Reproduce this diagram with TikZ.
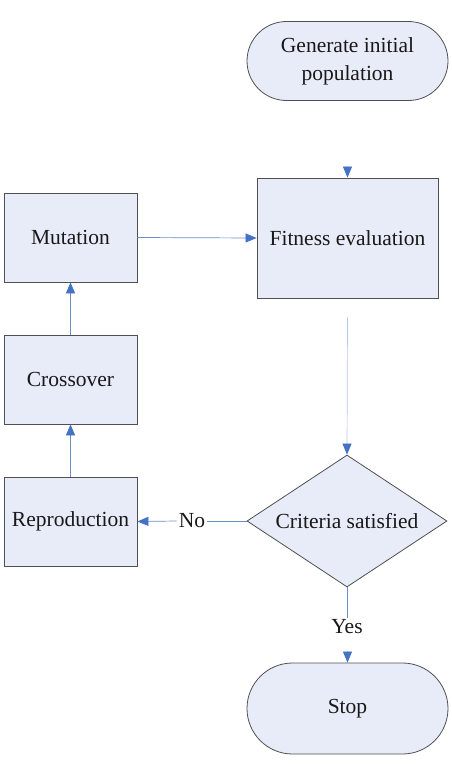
\documentclass[tikz,border=0pt]{standalone}
\usepackage{fontspec}
\setmainfont{Liberation Serif}
\usetikzlibrary{shapes.geometric,shapes.misc,arrows.meta}
\definecolor{boxfill}{HTML}{E8ECF8}
\definecolor{boxline}{HTML}{505050}
\definecolor{arrline}{HTML}{6A8EC8}
\definecolor{faintline}{HTML}{B4C8EC}
\definecolor{tipblue}{HTML}{4472C4}
\tikzset{
  base/.style={draw=boxline, fill=boxfill, line width=0.8pt, inner sep=0pt, font=\fontsize{21.5}{28}\selectfont, text=black!90},
  procbox/.style={base, rectangle},
  termbox/.style={base, rounded rectangle, align=center},
  decbox/.style={base, diamond},
  conn/.style={draw=arrline, line width=0.7pt},
  arr/.style={conn, -{Triangle[length=11pt,width=9pt,fill=tipblue,color=tipblue]}},
  lbl/.style={fill=white, inner sep=2pt, font=\fontsize{21.5}{25}\selectfont, text=black!90}
}
\begin{document}
\begin{tikzpicture}[x=1pt,y=-1pt]
\useasboundingbox (0,0) rectangle (451,780);
\node[termbox, minimum width=201pt, minimum height=79pt] (gen) at (347.5,61) {Generate initial\\population};
\node[procbox, minimum width=181pt, minimum height=120pt] (fit) at (347.5,238) {Fitness evaluation};
\node[procbox, minimum width=133pt, minimum height=89pt] (mut) at (70.5,237.5) {Mutation};
\node[procbox, minimum width=133pt, minimum height=89pt] (cro) at (70.5,379.5) {Crossover};
\node[procbox, minimum width=133pt, minimum height=89pt] (rep) at (70.5,521.5) {Reproduction};
\node[decbox, minimum width=200pt, minimum height=132pt] (dia) at (347,521) {};
\node[font=\fontsize{21.5}{25}\selectfont, text=black!90] (diatext) at (dia.center) {Criteria satisfied};
\node[termbox, minimum width=201pt, minimum height=91pt] (stop) at (347.5,708.5) {Stop};
\node[lbl] (no) at (192,521) {No};
\node[lbl] (yes) at (347,627) {Yes};
\coordinate (gentip) at ([yshift=11.5pt]fit.north);
\coordinate (fitout) at ([yshift=-19pt]fit.south);
\coordinate (stoptip) at ([yshift=11.5pt]stop.north);
% connectors
\draw[arr, draw=faintline] (gentip) -- (fit.north);
\draw[arr, draw=faintline] (fitout) -- (dia.north);
\draw[conn] (dia.west) -- (no.east);
\draw[arr] (no.west) -- (rep.east);
\draw[conn] (dia.south) -- (yes.north);
\draw[arr, draw=faintline] (stoptip) -- (stop.north);
\draw[arr] (rep.north) -- (cro.south);
\draw[arr] (cro.north) -- (mut.south);
\draw[arr] (mut.east) -- (fit.west);
\end{tikzpicture}
\end{document}
